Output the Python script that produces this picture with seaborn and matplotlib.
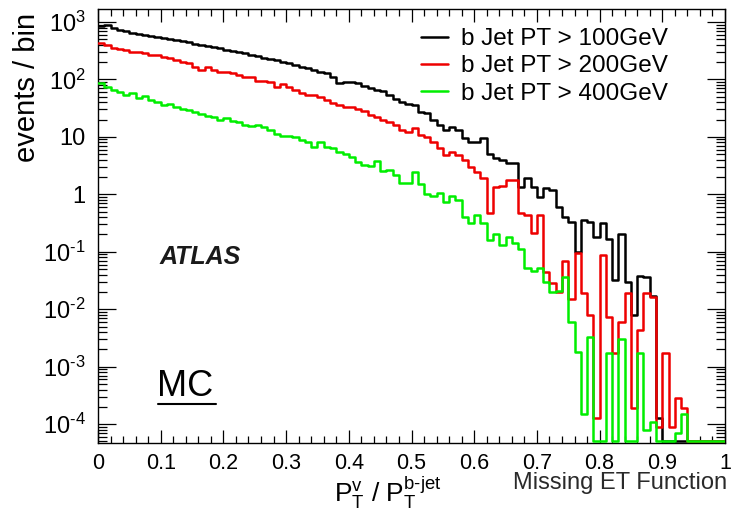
import numpy as np
import pandas as pd
import matplotlib
matplotlib.use("Agg")
import matplotlib.pyplot as plt
import seaborn as sns
from matplotlib.lines import Line2D
from matplotlib.ticker import FixedLocator, FixedFormatter, LogLocator, MultipleLocator, NullFormatter

# ---------------- data (events / bin, 100 bins over 0..1) ----------------
pt100 = [850, 895, 775, 730, 700, 650, 620, 590, 570, 555,
         530, 510, 485, 465, 445, 420, 405, 380, 365, 350,
         325, 315, 300, 285, 270, 255, 240, 228, 215, 200,
         190, 178, 165, 155, 145, 137, 128, 112, 85, 90,
         89, 85, 77, 72, 66, 62, 54, 46, 41, 38,
         36, 27, 26, 20, 16, 13, 15, 13, 9.6, 8,
         8, 9.5, 5, 4.3, 4.0, 3.5, 3.5, 1.35, 1.95, 1.35,
         0.9, 1.3, 1.2, 0.6, 0.4, 0.33, 0.1, 0.36, 0.33, 0.18,
         0.32, 0.17, 0.032, 0.2, 0.03, 0.008, 0.038, 0.036, 0.017, 1.3e-4,
         0, 0, 0, 0, 0, 0, 0, 0, 0, 0]
pt200 = [425, 400, 350, 340, 326, 304, 300, 285, 267, 267,
         250, 235, 218, 204, 191, 167, 146, 163, 146, 137,
         137, 129, 120, 112, 109, 92, 92, 90, 75, 83,
         75, 66, 58, 54, 54, 50, 44, 39, 36, 33,
         33, 31, 28, 24, 22, 20, 18, 16, 13, 12,
         14, 10.7, 10, 8.2, 6.3, 4.9, 5.5, 4.9, 4.0, 3.0,
         2.4, 1.9, 0.48, 1.35, 1.4, 1.8, 1.8, 0.48, 0.44, 0.21,
         0.44, 0.045, 0.029, 0.02, 0.068, 0.015, 0.095, 0.019, 0.008, 1.3e-4,
         0.089, 0.0074, 0.0017, 0.006, 0.019, 1.9e-4, 0.0044, 0.019, 0.0165, 9e-5,
         0.0017, 9e-5, 2.9e-4, 1.9e-4, 0, 0, 0, 0, 0, 0]
pt400 = [87, 74, 66, 60, 54, 58, 48, 51, 44, 41,
         36, 38, 33, 30, 29, 27, 25, 23, 22, 20,
         21, 19, 18.5, 16, 15.5, 16, 15, 13, 11, 10.5,
         10.5, 10, 8.9, 8, 6.7, 8.1, 6.7, 6.4, 5.5, 5.0,
         4.5, 3.7, 3.3, 3.1, 3.8, 2.5, 2.6, 2.2, 1.6, 1.6,
         2.4, 1.5, 1.0, 0.95, 1.07, 0.74, 0.95, 0.8, 0.41, 0.32,
         0.43, 0.32, 0.16, 0.2, 0.13, 0.18, 0.14, 0.11, 0.052, 0.046,
         0.052, 0.03, 0.02, 0.021, 0.036, 0.0059, 0.0018, 1.5e-4, 0.0033, 0,
         0, 0.0017, 0, 0.003, 0, 0, 0.0017, 8e-5, 1.1e-4, 0,
         0, 0, 7e-5, 1.5e-4, 0, 0, 0, 0, 0, 0]

series_labels = ["b Jet PT > 100GeV", "b Jet PT > 200GeV", "b Jet PT > 400GeV"]
series_colors = ["#000000", "#ee0000", "#00ee00"]

x_ticks = [0, 0.1, 0.2, 0.3, 0.4, 0.5, 0.6, 0.7, 0.8, 0.9, 1.0]
x_tick_labels = ["0", "0.1", "0.2", "0.3", "0.4", "0.5", "0.6", "0.7", "0.8", "0.9", "1"]
y_ticks = [1e-4, 1e-3, 1e-2, 1e-1, 1, 10, 1e2, 1e3]
y_tick_labels = [r"10$^{\text{-4}}$", r"10$^{\text{-3}}$", r"10$^{\text{-2}}$",
                 r"10$^{\text{-1}}$", "1", "10", r"10$^{\text{2}}$", r"10$^{\text{3}}$"]

X_MIN, X_MAX, N_BINS = 0.0, 1.0, 100
Y_MIN, Y_MAX = 4.7e-5, 1680

# ---------------- style ----------------
sns.set_theme(style="ticks")
plt.rcParams["font.family"] = ["Liberation Sans", "DejaVu Sans"]
plt.rcParams["mathtext.fontset"] = "custom"
plt.rcParams["mathtext.rm"] = "Liberation Sans"
plt.rcParams["mathtext.it"] = "Liberation Sans:italic"
plt.rcParams["mathtext.bf"] = "Liberation Sans:bold"
plt.rcParams["text.color"] = "black"
plt.rcParams["xtick.color"] = "black"
plt.rcParams["ytick.color"] = "black"
plt.rcParams["xtick.labelcolor"] = "black"
plt.rcParams["ytick.labelcolor"] = "black"

W, H = 731, 511
fig = plt.figure(figsize=(W / 100, H / 100), dpi=100)
ax = fig.add_axes([98 / W, 1 - 443 / H, (725 - 98) / W, (443 - 9) / H])
ax.set_yscale("log")

edges = np.linspace(X_MIN, X_MAX, N_BINS + 1)
centers = 0.5 * (edges[:-1] + edges[1:])

for vals, lab, col, z in zip([pt100, pt200, pt400], series_labels, series_colors, [3, 4, 5]):
    v = np.asarray(vals, dtype=float)
    v = np.where(v > 0, v, Y_MIN * 1.07)   # empty bins drawn on the frame floor (ROOT style)
    df = pd.DataFrame({"x": centers, "w": v})
    sns.histplot(data=df, x="x", weights="w", bins=N_BINS, binrange=(X_MIN, X_MAX),
                 element="step", fill=False, color=col, linewidth=1.8, ax=ax, zorder=z)

ax.set_xlim(X_MIN, X_MAX)
ax.set_ylim(Y_MIN, Y_MAX)
ax.set_xlabel("")
ax.set_ylabel("")

ax.xaxis.set_major_locator(FixedLocator(x_ticks))
ax.xaxis.set_major_formatter(FixedFormatter(x_tick_labels))
ax.xaxis.set_minor_locator(MultipleLocator(0.02))
ax.yaxis.set_major_locator(FixedLocator(y_ticks))
ax.yaxis.set_major_formatter(FixedFormatter(y_tick_labels))
ax.yaxis.set_minor_locator(LogLocator(base=10, subs=np.arange(2, 10), numticks=30))
ax.yaxis.set_minor_formatter(NullFormatter())

ax.tick_params(which="both", direction="in", top=True, right=True, color="black",
               labelcolor="black", width=0.9)
ax.tick_params(axis="y", which="major", length=13, labelsize=17, pad=9)
ax.tick_params(axis="y", which="minor", length=6.5)
ax.tick_params(axis="x", which="major", length=9.5, labelsize=15.5, pad=7)
ax.tick_params(axis="x", which="minor", length=5)
for s in ax.spines.values():
    s.set_linewidth(1.0)
    s.set_color("black")

handles = [Line2D([], [], color=c, lw=1.8) for c in series_colors]
leg = ax.legend(handles, series_labels, loc="upper left", bbox_to_anchor=(421 / W, 1 - 28 / H),
                bbox_transform=fig.transFigure, frameon=False, fontsize=17.5, handlelength=1.1,
                handletextpad=0.55, labelspacing=0.22, borderpad=0, borderaxespad=0)
for t in leg.get_texts():
    t.set_color("black")

fig.text(27 / W, 1 - 87 / H, "events / bin", rotation=90, fontsize=21, ha="center", va="center",
         color="black")
fig.text(388 / W, 1 - 493 / H,
         r"P$_{\text{T}}^{\text{v}}$ / P$_{\text{T}}^{\text{b-jet}}$",
         fontsize=19, ha="center", va="center", color="black")
fig.text(727 / W, 1 - 483 / H, "Missing ET Function", fontsize=17, ha="right", va="center",
         color="#2a2a2a")
fig.text(160 / W, 1 - 257 / H, "ATLAS", fontsize=18, fontweight="bold", fontstyle="italic",
         ha="left", va="center", color="#1a1a1a")
fig.text(157 / W, 1 - 386 / H, "MC", fontsize=26, ha="left", va="center", color="black")
fig.add_artist(Line2D([158 / W, 216 / W], [1 - 404 / H, 1 - 404 / H], color="black", lw=1.5,
                      transform=fig.transFigure))

fig.savefig("out.png", dpi=100)
